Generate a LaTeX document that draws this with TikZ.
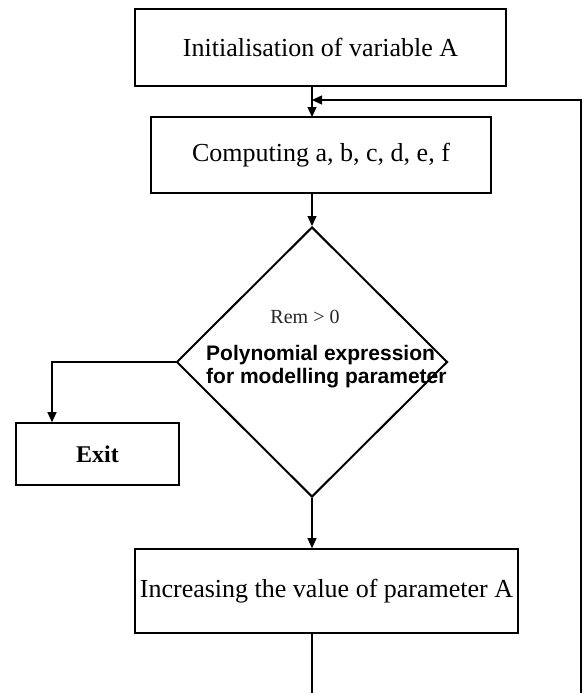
\documentclass[tikz,border=0pt]{standalone}
\usepackage{fontspec}
\setmainfont{Liberation Serif}
\newfontfamily\arialfont{Liberation Sans}
\usetikzlibrary{shapes.geometric,arrows.meta}
\tikzset{
  procbox/.style={draw=black, line width=1.6pt, inner sep=0pt, align=center,
    font=\fontsize{26}{30}\selectfont},
  decbox/.style={draw=black, line width=2pt, shape=diamond, inner sep=0pt},
  conn/.style={line width=1.3pt, draw=black},
  arr/.style={conn, -{Triangle[length=10pt,width=9pt]}},
}
\begin{document}
\begin{tikzpicture}[x=1pt,y=-1pt]
\useasboundingbox (0,0) rectangle (583,693);
\fill[white] (0,0) rectangle (583,693);
% nodes
\node[procbox, minimum width=371pt, minimum height=77pt] (init) at (320.5,47.5) {Initialisation of variable A};
\node[procbox, minimum width=340pt, minimum height=76pt] (comp) at (321,155) {Computing a, b, c, d, e, f};
\node[decbox, minimum width=271pt, minimum height=270pt] (dec) at (312,362) {};
\node[font=\fontsize{20}{24}\selectfont, text=black!85] (rem) at (305,317) {Rem > 0};
\node[font=\arialfont\bfseries\fontsize{21}{23}\selectfont, align=left, anchor=west, inner sep=0pt] (poly) at (206,367) {Polynomial expression\\for modelling parameter};
\node[procbox, font=\bfseries\fontsize{24}{28}\selectfont, minimum width=163pt, minimum height=62pt] (exit) at (97.5,454) {Exit};
\node[procbox, minimum width=383pt, minimum height=84pt] (inc) at (326.5,591) {Increasing the value of parameter A};
% coordinates
\coordinate (b1) at (312,86);
\coordinate (t2) at (312,117);
\coordinate (fb) at (312,100);
\coordinate (rb) at (581,693);
\coordinate (rt) at (581,100);
\coordinate (b2) at (312,193);
\coordinate (ex) at (52,362);
\coordinate (ib) at (312,693);
% connectors
\draw[arr] (b1) -- (t2);
\draw[arr] (rb) -- (rt) -- (fb);
\draw[arr] (b2) -- (dec.north);
\draw[arr] (dec.west) -- (ex) -- (ex |- exit.north);
\draw[arr] (dec.south) -- (dec.south |- inc.north);
\draw[conn] (inc.south -| ib) -- (ib);
\end{tikzpicture}
\end{document}
